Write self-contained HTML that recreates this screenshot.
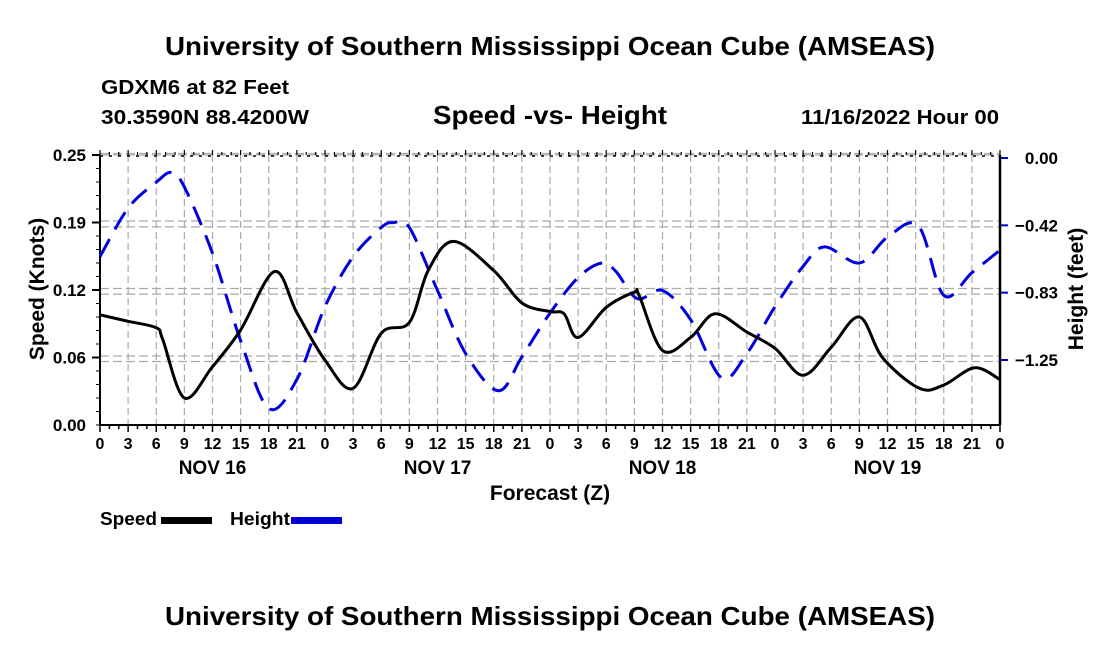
<!DOCTYPE html>
<html><head><meta charset="utf-8"><style>
body{margin:0;background:#fff;}
svg text{font-family:"Liberation Sans",Arial,sans-serif;font-weight:bold;fill:#000;}
</style></head><body>
<svg id="chart" width="1100" height="650" viewBox="0 0 1100 650" xmlns="http://www.w3.org/2000/svg">
<rect width="1100" height="650" fill="#fff"/>
<text x="165" y="55" font-size="26" textLength="770" lengthAdjust="spacingAndGlyphs">University of Southern Mississippi Ocean Cube (AMSEAS)</text>
<text x="101" y="94" font-size="20" textLength="188" lengthAdjust="spacingAndGlyphs">GDXM6 at 82 Feet</text>
<text x="101" y="124" font-size="20" textLength="208" lengthAdjust="spacingAndGlyphs">30.3590N  88.4200W</text>
<text x="433" y="124" font-size="26" textLength="234" lengthAdjust="spacingAndGlyphs">Speed -vs- Height</text>
<text x="801" y="124" font-size="20" textLength="198" lengthAdjust="spacingAndGlyphs">11/16/2022 Hour 00</text>
<text x="165" y="625" font-size="26" textLength="770" lengthAdjust="spacingAndGlyphs">University of Southern Mississippi Ocean Cube (AMSEAS)</text>
<g id="grid"></g>
<g id="axes"></g>
<g id="series"></g>
<text transform="translate(44,289) rotate(-90)" font-size="21" text-anchor="middle">Speed (Knots)</text>
<text transform="translate(1083,289) rotate(-90)" font-size="21" text-anchor="middle">Height (feet)</text>
<text x="550" y="500" font-size="21" text-anchor="middle">Forecast (Z)</text>
<g>
<text x="100" y="525" font-size="18" textLength="57" lengthAdjust="spacingAndGlyphs">Speed</text>
<rect x="161" y="517" width="51" height="7" fill="#000"/>
<text x="230" y="525" font-size="18" textLength="60" lengthAdjust="spacingAndGlyphs">Height</text>
<rect x="291" y="517" width="51" height="7" fill="#0000dd"/>
<line x1="293" y1="520.5" x2="340" y2="520.5" stroke="#00008a" stroke-width="1" stroke-dasharray="8,4"/>
</g>
</svg>
<script>
const hoursSpeed=[0,3,6,6.7,9,12,15,18.6,21,24,27,30,33,35,37.7,42,45,48,49.5,51,54,57,57.5,60,63,65.6,69,72,75,78,81,83.5,87.4,90,93.3,96];
const speedVals=[0.102,0.096,0.090,0.079,0.025,0.054,0.088,0.142,0.104,0.06,0.034,0.085,0.095,0.143,0.17,0.143,0.113,0.105,0.103,0.081,0.109,0.123,0.12,0.069,0.081,0.103,0.086,0.071,0.046,0.072,0.100,0.062,0.034,0.037,0.053,0.042];
const hoursHeight=[0,3,6,7.6,9,12,15,18,21,24,27,30,31.3,33,36,39,42.5,45,48,51,53.5,55,57.3,60,63,66.3,69,72,75,77.3,81,84,87.3,90,93,96];
const heightVals=[-0.61,-0.31,-0.15,-0.09,-0.18,-0.59,-1.13,-1.55,-1.37,-0.92,-0.61,-0.43,-0.40,-0.43,-0.82,-1.21,-1.44,-1.23,-0.96,-0.74,-0.65,-0.70,-0.87,-0.82,-1.0,-1.36,-1.21,-0.92,-0.67,-0.55,-0.65,-0.49,-0.42,-0.85,-0.71,-0.57];
const leftTicks=[0,0.0625,0.125,0.1875,0.25];
const leftTickLabels=["0.00","0.06","0.12","0.19","0.25"];
const rightTicks=[0,-0.4167,-0.8333,-1.25];
const rightTickLabels=["0.00","\u22120.42","\u22120.83","\u22121.25"];
const dayLabels=["NOV 16","NOV 17","NOV 18","NOV 19"];

const NS="http://www.w3.org/2000/svg";
const L=100,R=1000,T=155,B=425;
const x=h=>L+(h/96)*(R-L);
const yL=v=>B-(v/0.25)*(B-T);
const yR=v=>158-v*161.6;
function mk(tag,attrs,parent){const e=document.createElementNS(NS,tag);for(const k in attrs)e.setAttribute(k,attrs[k]);parent.appendChild(e);return e;}
const grid=document.getElementById('grid'),axes=document.getElementById('axes'),series=document.getElementById('series');
for(let h=3;h<96;h+=3){const l=mk('line',{x1:x(h),x2:x(h),y1:T,y2:B,stroke:'#aaa','stroke-width':1.2,'stroke-dasharray':'7,4'},grid);

}
leftTicks.forEach((v,i)=>{if(i===0)return;const l=mk('line',{x1:L,x2:R,y1:yL(v)-1.5,y2:yL(v)-1.5,stroke:'#aaa','stroke-width':1.2,'stroke-dasharray':'9,4'},grid);


const t=mk('text',{x:L-14,y:yL(v)+6,'font-size':17,'text-anchor':'end'},axes);t.textContent=leftTickLabels[i];


mk('line',{x1:L-8,x2:L,y1:yL(v),y2:yL(v),stroke:'#000','stroke-width':2},axes);});
{const t=mk('text',{x:L-14,y:B+6,'font-size':17,'text-anchor':'end'},axes);t.textContent=leftTickLabels[0];

}
for(let v=0;v<=0.25;v+=0.0125){mk('line',{x1:L-4,x2:L,y1:yL(v),y2:yL(v),stroke:'#000','stroke-width':1},axes);}
rightTicks.forEach((v,i)=>{const yy=yR(v);
if(i>0){const l=mk('line',{x1:L,x2:R,y1:yy+1.5,y2:yy+1.5,stroke:'#aaa','stroke-width':1.2,'stroke-dasharray':'9,4'},grid);

}
mk('line',{x1:R,x2:R+8,y1:yy,y2:yy,stroke:'#0000cc','stroke-width':2},axes);
const t=mk('text',{x:R+58,y:yy+6,'font-size':17,'text-anchor':'end'},axes);t.textContent=rightTickLabels[i];

});
mk('line',{x1:L,x2:R,y1:T,y2:T,stroke:'#aaa','stroke-width':1.2,'stroke-dasharray':'9,4'},grid);
mk('line',{x1:L,x2:R,y1:T+1,y2:T+1,stroke:'#000','stroke-width':1.5,'stroke-dasharray':'3,6'},axes);
mk('line',{x1:L,x2:L,y1:T,y2:B,stroke:'#000','stroke-width':2},axes);
mk('line',{x1:R,x2:R,y1:T,y2:B,stroke:'#000','stroke-width':2.5},axes);
mk('line',{x1:L,x2:R,y1:B,y2:B,stroke:'#000','stroke-width':2},axes);
for(let h=0;h<=96;h++){mk('line',{x1:x(h),x2:x(h),y1:B,y2:B+(h%3===0?7:4),stroke:'#000','stroke-width':1.5},axes);
mk('line',{x1:x(h),x2:x(h),y1:T,y2:T-(h%3===0?5:3),stroke:'#000','stroke-width':1.2},axes);
if(h%3===0){const t=mk('text',{x:x(h),y:B+24,'font-size':16,'text-anchor':'middle'},axes);t.textContent=String(h%24);

}}
dayLabels.forEach((d,i)=>{const t=mk('text',{x:x(12+24*i),y:B+49,'font-size':19,'text-anchor':'middle'},axes);t.textContent=d;

});
function smooth(pts){let d='M'+pts[0][0]+','+pts[0][1];
for(let i=0;i<pts.length-1;i++){const p0=pts[i-1]||pts[i],p1=pts[i],p2=pts[i+1],p3=pts[i+2]||p2;
const c1=[p1[0]+(p2[0]-p0[0])/6,p1[1]+(p2[1]-p0[1])/6],c2=[p2[0]-(p3[0]-p1[0])/6,p2[1]-(p3[1]-p1[1])/6];
d+=' C'+c1[0].toFixed(1)+','+c1[1].toFixed(1)+' '+c2[0].toFixed(1)+','+c2[1].toFixed(1)+' '+p2[0].toFixed(1)+','+p2[1].toFixed(1);}
return d;}
const hp=mk('path',{d:smooth(hoursHeight.map((h,i)=>[x(h),yR(heightVals[i])])),fill:'none',stroke:'#0000dd','stroke-width':3,'stroke-dasharray':'20,11'},series);


const sp=mk('path',{d:smooth(hoursSpeed.map((h,i)=>[x(h),yL(speedVals[i])])),fill:'none',stroke:'#000','stroke-width':3},series);


</script>
</body></html>
